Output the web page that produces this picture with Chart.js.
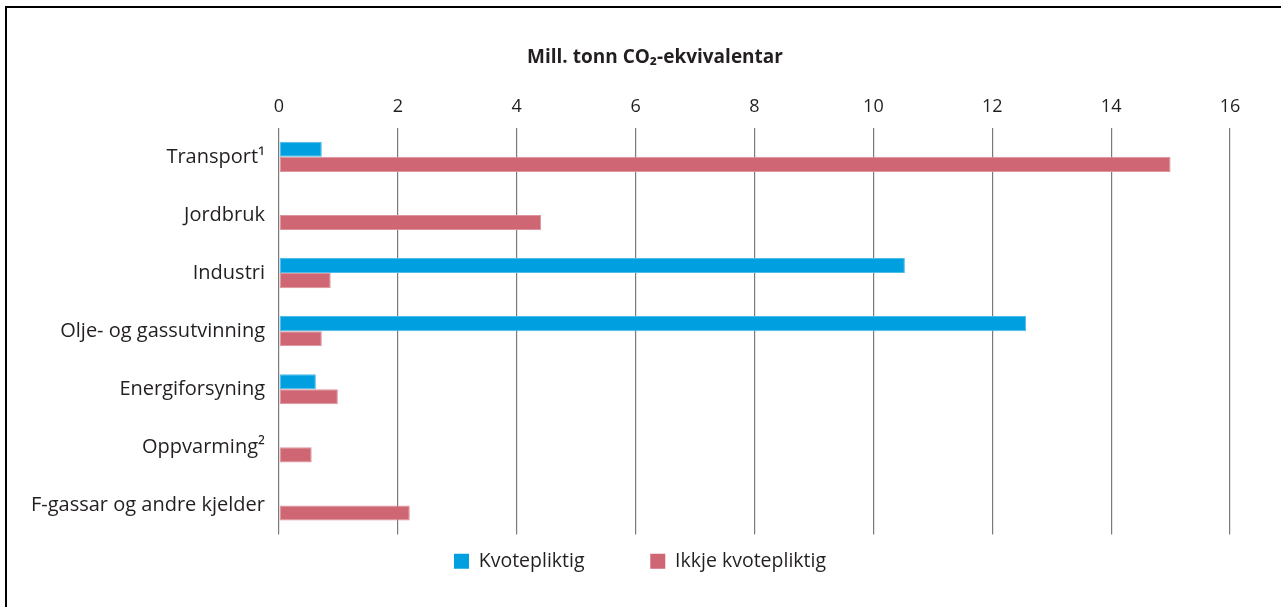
<!DOCTYPE html>
<html>
<head>
<meta charset="utf-8">
<script src="https://cdn.jsdelivr.net/npm/chart.js@4/dist/chart.umd.min.js"></script>
<style>
  html, body { margin: 0; padding: 0; background: #fff; overflow: hidden; }
  #frame {
    position: absolute; left: 5px; top: 6px; width: 1400px; height: 700px;
    border-top: 2px solid #000; border-left: 2px solid #000;
  }
  #wrap { position: absolute; left: 0; top: 0; width: 1281px; height: 607px; }
</style>
</head>
<body>
<div id="frame"></div>
<div id="wrap"><canvas id="chart"></canvas></div>
<script>
// Mill. tonn CO2-ekvivalentar per sektor
const categories = [
    'Transport\u00b9',
    'Jordbruk',
    'Industri',
    'Olje- og gassutvinning',
    'Energiforsyning',
    'Oppvarming\u00b2',
    'F-gassar og andre kjelder'
];
const kvotepliktig      = [0.72, null, 10.53, 12.57, 0.62, null, null];
const ikkjeKvotepliktig = [15.0, 4.41, 0.87, 0.72, 0.99, 0.55, 2.2];
const xTicks = [0, 2, 4, 6, 8, 10, 12, 14, 16];

const FONT = "'Open Sans', sans-serif";
const TXT = '#231f20';

// title and legend sit a bit right of the canvas centre in the original
const shiftBoxes = {
    id: 'shiftBoxes',
    afterLayout(chart) {
        if (chart.titleBlock) chart.titleBlock.left = 80;
        if (chart.legend) chart.legend.left = 50;
    }
};

const ctx = document.getElementById('chart');

new Chart(ctx, {
    type: 'bar',
    data: {
        labels: categories,
        datasets: [
            {
                label: 'Kvotepliktig',
                data: kvotepliktig,
                backgroundColor: '#009fdf',
                borderColor: '#4cbce9',
                borderWidth: 1,
                borderSkipped: false
            },
            {
                label: 'Ikkje kvotepliktig',
                data: ikkjeKvotepliktig,
                backgroundColor: '#ce6673',
                borderColor: '#df939c',
                borderWidth: 1,
                borderSkipped: false
            }
        ]
    },
    options: {
        indexAxis: 'y',
        responsive: true,
        maintainAspectRatio: false,
        animation: false,
        categoryPercentage: 0.52,
        barPercentage: 1.0,
        layout: { padding: { top: 46, right: 51, bottom: 26, left: 0 } },
        scales: {
            x: {
                position: 'top',
                min: 0,
                max: 16,
                z: 1,
                afterBuildTicks: (scale) => {
                    scale.ticks = xTicks.map(v => ({ value: v }));
                },
                afterFit: (scale) => { scale.height = 59; },
                ticks: {
                    color: TXT,
                    padding: 10,
                    font: { family: FONT, size: 18 }
                },
                grid: { color: '#7a7a7a', lineWidth: 1.2, drawTicks: false },
                border: { display: false }
            },
            y: {
                afterFit: (scale) => { scale.width = 279; },
                ticks: {
                    color: TXT,
                    padding: 14,
                    font: { family: FONT, size: 20 }
                },
                grid: { display: false, drawTicks: false },
                border: { display: false }
            }
        },
        plugins: {
            title: {
                display: true,
                text: 'Mill. tonn CO\u2082-ekvivalentar',
                color: TXT,
                font: { family: FONT, size: 19, weight: 'bold' },
                padding: { top: 0, bottom: 0 }
            },
            legend: {
                position: 'bottom',
                labels: {
                    color: TXT,
                    boxWidth: 15,
                    boxHeight: 15,
                    padding: 17,
                    font: { family: FONT, size: 19.5 },
                    generateLabels: (chart) => {
                        const items = Chart.defaults.plugins.legend.labels.generateLabels(chart);
                        items.forEach(it => { it.lineWidth = 0; });
                        items[0].text = items[0].text + '\u2003\u2003\u2002';
                        return items;
                    }
                }
            },
            tooltip: { enabled: false }
        }
    },
    plugins: [shiftBoxes]
});
</script>
</body>
</html>
